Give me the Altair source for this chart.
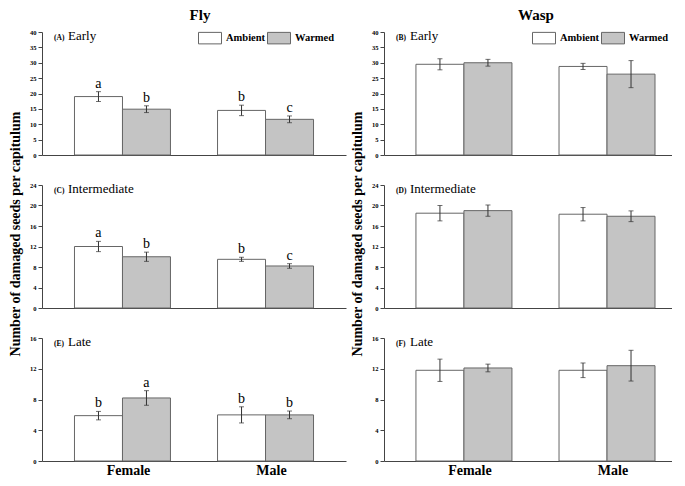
import altair as alt
import pandas as pd

SERIF = "Liberation Serif"
Y_TITLE = "Number of damaged seeds per capitulum"

insects = ["Fly", "Wasp"]
stages = ["Early", "Intermediate", "Late"]
sexes = ["Female", "Male"]
treatments = ["Ambient", "Warmed"]
panel_tags = {
    ("Fly", "Early"): "(A)", ("Wasp", "Early"): "(B)",
    ("Fly", "Intermediate"): "(C)", ("Wasp", "Intermediate"): "(D)",
    ("Fly", "Late"): "(E)", ("Wasp", "Late"): "(F)",
}

# order of values: Female-Ambient, Female-Warmed, Male-Ambient, Male-Warmed
fly_early_mean = [19.0, 14.9, 14.5, 11.6]
fly_early_se = [1.6, 1.1, 1.7, 1.1]
fly_early_letters = ["a", "b", "b", "c"]
wasp_early_mean = [29.5, 30.0, 28.8, 26.3]
wasp_early_se = [1.8, 1.1, 1.0, 4.4]

fly_inter_mean = [12.0, 10.0, 9.5, 8.2]
fly_inter_se = [1.0, 0.9, 0.4, 0.45]
fly_inter_letters = ["a", "b", "b", "c"]
wasp_inter_mean = [18.5, 19.0, 18.3, 17.9]
wasp_inter_se = [1.5, 1.1, 1.3, 1.05]

fly_late_mean = [5.9, 8.2, 6.0, 6.0]
fly_late_se = [0.55, 0.95, 1.05, 0.5]
fly_late_letters = ["b", "a", "b", "b"]
wasp_late_mean = [11.8, 12.1, 11.8, 12.4]
wasp_late_se = [1.45, 0.5, 0.95, 2.0]

y_max = {"Early": 40, "Intermediate": 24, "Late": 16}
y_step = {"Early": 5, "Intermediate": 4, "Late": 4}

PANEL_H = 123


def panel(insect, stage, mean, se, letters, width, pad_outer, align, legend_x, title_dx,
          is_top, show_xlabels, show_ytitle):
    df = pd.DataFrame({
        "sex": [s for s in sexes for t in treatments],
        "treatment": [t for s in sexes for t in treatments],
        "mean": mean,
        "se": se,
        "letter": letters if letters else [""] * 4,
    })
    df["lo"] = df["mean"] - df["se"]
    df["hi"] = df["mean"] + df["se"]

    x = alt.X("sex:N",
              scale=alt.Scale(domain=sexes, paddingInner=0.329, paddingOuter=pad_outer,
                              align=align),
              axis=alt.Axis(title=None, labels=show_xlabels, ticks=False, domain=True,
                            labelFont=SERIF, labelFontSize=14, labelFontWeight="bold",
                            labelColor="black", labelPadding=2, labelOffset=6, labelAngle=0,
                            domainColor="#444", domainWidth=1))
    xo = alt.XOffset("treatment:N",
                     scale=alt.Scale(domain=treatments, paddingInner=0, paddingOuter=0))
    ymax = y_max[stage]
    yscale = alt.Scale(domain=[0, ymax], nice=False)
    axis_kw = dict(values=list(range(0, ymax + 1, y_step[stage])), grid=False,
                   labelFont=SERIF, labelFontSize=6.5, labelFontWeight="bold",
                   labelColor="black", labelPadding=2, tickSize=4, tickColor="#444",
                   domainColor="#444", domainWidth=1)
    if show_ytitle:
        yaxis = alt.Axis(title=Y_TITLE, titleFont=SERIF, titleFontSize=14,
                         titleFontWeight="bold", titleColor="black", titlePadding=7,
                         titleY=PANEL_H / 2 - 13, **axis_kw)
    else:
        yaxis = alt.Axis(title=None, **axis_kw)

    def Y(field):
        return alt.Y(field, scale=yscale, axis=yaxis)

    if is_top:
        leg = alt.Legend(title=None, orient="none", legendX=legend_x, legendY=-6,
                         direction="horizontal", symbolType="M-1,-0.5H1V0.5H-1Z",
                         symbolSize=529, symbolStrokeColor="#666", symbolStrokeWidth=1,
                         labelFont=SERIF, labelFontSize=10.5, labelFontWeight="bold",
                         labelColor="black", columnPadding=-1, labelOffset=4, padding=0)
    else:
        leg = None

    base = alt.Chart(df)
    bars = base.mark_bar(stroke="#666666", strokeWidth=1).encode(
        x=x, xOffset=xo, y=Y("mean:Q"),
        fill=alt.Fill("treatment:N",
                      scale=alt.Scale(domain=treatments, range=["white", "#c4c4c4"]),
                      legend=leg),
    )
    rules = base.mark_rule(color="#333", strokeWidth=1).encode(
        x=x, xOffset=xo, y=Y("lo:Q"), y2="hi:Q")
    cap_hi = base.mark_tick(color="#333", size=5, thickness=1).encode(
        x=x, xOffset=xo, y=Y("hi:Q"))
    cap_lo = base.mark_tick(color="#333", size=5, thickness=1).encode(
        x=x, xOffset=xo, y=Y("lo:Q"))
    lett = base.mark_text(font=SERIF, fontSize=14, baseline="alphabetic", dy=-4,
                          color="black").encode(
        x=x, xOffset=xo, y=Y("hi:Q"), text="letter:N")

    tag_df = pd.DataFrame({"tag": [panel_tags[(insect, stage)]], "stage": [stage]})
    tag = alt.Chart(tag_df).mark_text(font=SERIF, fontSize=7.5, fontWeight="bold",
                                      align="left", baseline="alphabetic",
                                      color="black").encode(
        x=alt.value(12), y=alt.value(8), text="tag:N")
    stg = alt.Chart(tag_df).mark_text(font=SERIF, fontSize=13, align="left",
                                      baseline="alphabetic", color="black").encode(
        x=alt.value(26), y=alt.value(8), text="stage:N")

    props = dict(width=width, height=PANEL_H)
    if is_top:
        props["title"] = alt.TitleParams(insect, font=SERIF, fontSize=15,
                                         fontWeight="bold", color="black",
                                         anchor="middle", offset=3, dx=title_dx)
    return alt.layer(bars, rules, cap_hi, cap_lo, lett, tag, stg).properties(**props)


data = {
    ("Fly", "Early"): (fly_early_mean, fly_early_se, fly_early_letters),
    ("Fly", "Intermediate"): (fly_inter_mean, fly_inter_se, fly_inter_letters),
    ("Fly", "Late"): (fly_late_mean, fly_late_se, fly_late_letters),
    ("Wasp", "Early"): (wasp_early_mean, wasp_early_se, None),
    ("Wasp", "Intermediate"): (wasp_inter_mean, wasp_inter_se, None),
    ("Wasp", "Late"): (wasp_late_mean, wasp_late_se, None),
}
# width, outer padding, band alignment, legend x, title dx
col_geom = {"Fly": (304, 0.227, 0.5, 156, 6), "Wasp": (288, 0.171, 0.653, 148, 8)}

panels = []
for i, stage in enumerate(stages):
    for insect in insects:
        mean, se, letters = data[(insect, stage)]
        w, po, al, lx, tdx = col_geom[insect]
        panels.append(panel(insect, stage, mean, se, letters, w, po, al, lx, tdx,
                            is_top=(i == 0), show_xlabels=(i == 2),
                            show_ytitle=(i == 1)))

chart = alt.concat(
    *panels, columns=2, spacing={"row": 30, "column": 38}, bounds="flush",
).resolve_scale(fill="independent").resolve_legend(fill="independent").configure(
    padding=0, background="white"
).configure_view(stroke=None)

chart.save("out.html", embed_options={"renderer": "svg", "actions": False})
